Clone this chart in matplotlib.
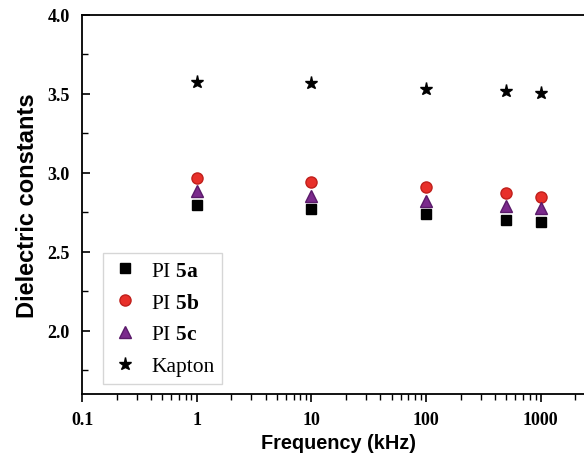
import numpy as np
import matplotlib
matplotlib.use("Agg")
import matplotlib.pyplot as plt
from matplotlib.ticker import FixedLocator, LogLocator, NullFormatter

plt.rcParams['mathtext.fontset'] = 'custom'
plt.rcParams['mathtext.rm'] = 'Liberation Serif'
plt.rcParams['mathtext.bf'] = 'Liberation Serif:bold'

freq = [1, 10, 100, 500, 1000]
pi_5a = [2.80, 2.77, 2.74, 2.70, 2.69]
pi_5b = [2.97, 2.94, 2.91, 2.87, 2.85]
pi_5c = [2.885, 2.856, 2.825, 2.79, 2.78]
kapton = [3.575, 3.567, 3.53, 3.517, 3.505]

fig = plt.figure(figsize=(5.84, 4.56), dpi=100)
ax = fig.add_axes([82 / 584, 61 / 456, 513.5 / 584, 379 / 456])

ax.plot(freq, pi_5a, ls='none', marker='s', ms=7, color='black', label=r'PI $\mathbf{5a}$')
ax.plot(freq, pi_5b, ls='none', marker='o', ms=8, color='#e8302a', mec='#c0201c', label=r'PI $\mathbf{5b}$')
ax.plot(freq, pi_5c, ls='none', marker='^', ms=8.5, color='#7b2a8c', mec='#5a1a6a', label=r'PI $\mathbf{5c}$')
ax.plot(freq, kapton, ls='none', marker='*', ms=9.5, color='black', label='Kapton')

ax.set_xscale('log')
ax.set_xlim(0.1, 3000)
ax.set_ylim(1.6, 4.0)
ax.set_xticks([0.1, 1, 10, 100, 1000])
ax.set_xticklabels(['0.1', '1', '10', '100', '1000'])
ax.xaxis.set_minor_locator(LogLocator(base=10, subs=np.arange(2, 10)))
ax.xaxis.set_minor_formatter(NullFormatter())
ax.set_yticks([2.0, 2.5, 3.0, 3.5, 4.0])
ax.set_yticklabels(['2.0', '2.5', '3.0', '3.5', '4.0'])
ax.yaxis.set_minor_locator(FixedLocator([1.75, 2.25, 2.75, 3.25, 3.75]))

ax.tick_params(axis='x', which='major', direction='out', length=6, width=1.2, pad=6)
ax.tick_params(axis='x', which='minor', direction='out', length=4, width=1)
ax.tick_params(axis='y', which='major', direction='in', length=6, width=1.2, pad=9)
ax.tick_params(axis='y', which='minor', direction='in', length=4, width=1)
for lab in ax.get_xticklabels() + ax.get_yticklabels():
    lab.set_fontfamily('Liberation Serif')
    lab.set_fontweight('bold')
    lab.set_fontsize(13)
for s in ax.spines.values():
    s.set_linewidth(1.3)

ax.set_xlabel('Frequency (kHz)', fontfamily='Liberation Sans', fontweight='bold', fontsize=14.3, labelpad=4)
ax.set_ylabel('Dielectric constants', fontfamily='Liberation Sans', fontweight='bold', fontsize=17, labelpad=6)

leg = ax.legend(loc='upper left', bbox_to_anchor=(0.041, 0.372), borderaxespad=0,
                prop={'family': 'Liberation Serif', 'size': 15.5}, fancybox=False,
                edgecolor='#cccccc', handlelength=1.3, handletextpad=0.6,
                labelspacing=0.55, borderpad=0.35)
leg.get_frame().set_linewidth(1)

fig.savefig('out.png', dpi=100)
